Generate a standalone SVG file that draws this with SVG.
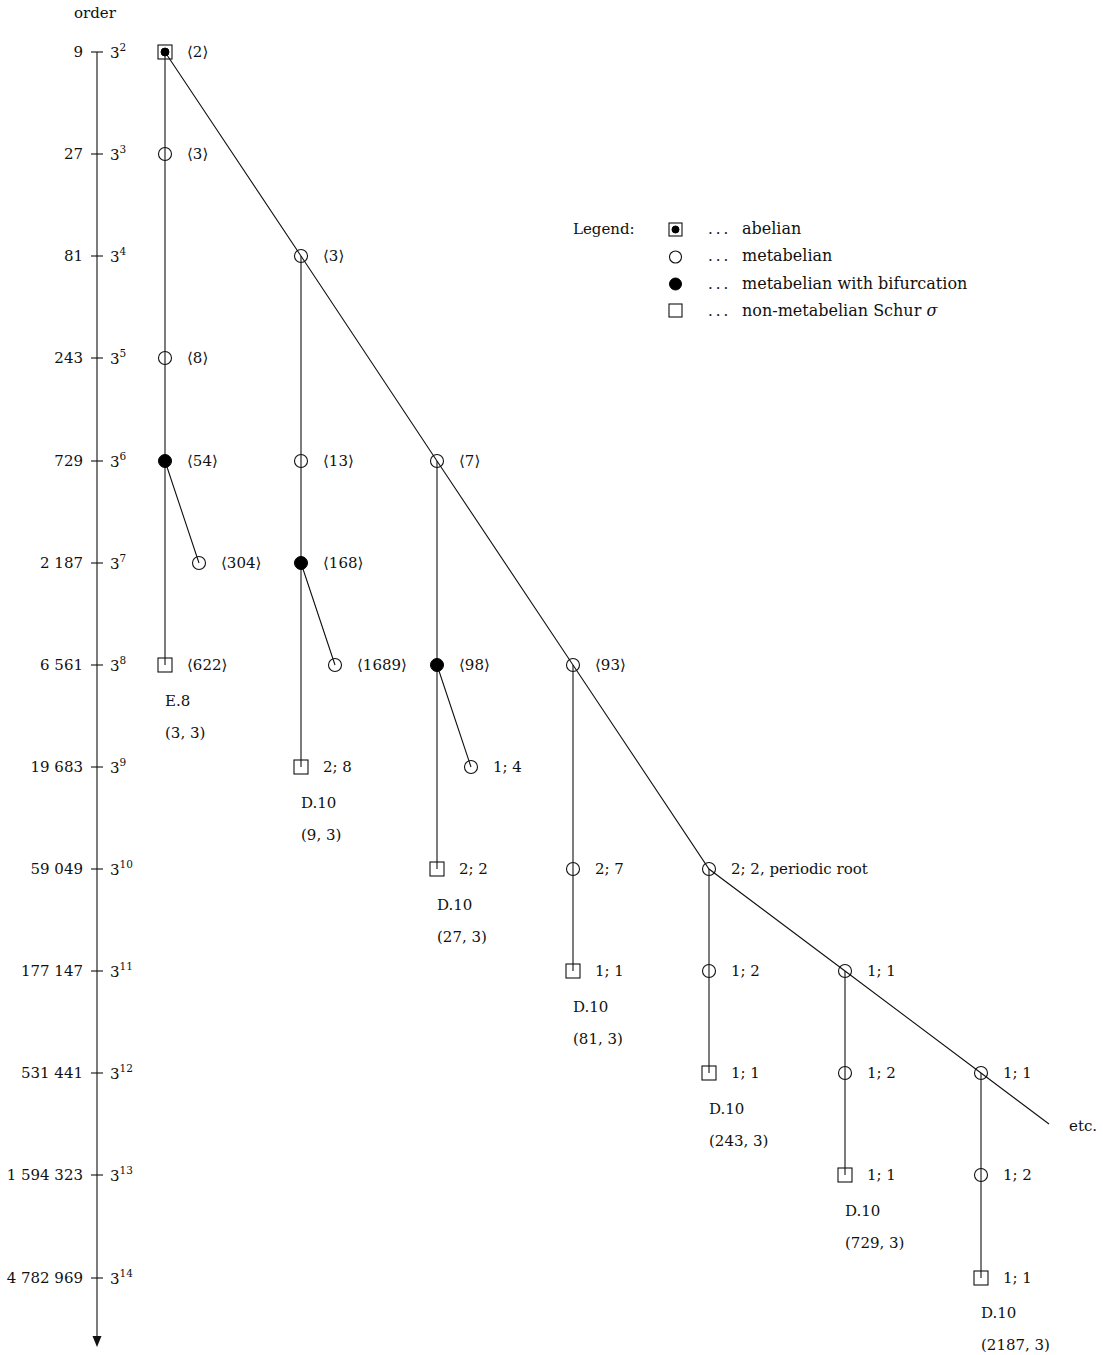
<svg xmlns="http://www.w3.org/2000/svg" width="1103" height="1355" viewBox="0 0 1103 1355">
<style>
text{font-family:"DejaVu Serif","Liberation Serif",serif;font-size:15px;fill:#111}
.r{text-anchor:end}
.ln{stroke:#111;stroke-width:1.1;fill:none}
.c{stroke:#111;stroke-width:1.1;fill:none}
.f{fill:#000;stroke:#000;stroke-width:1}
.sup{font-size:10.5px}
.lg{font-size:16px}
.dots{letter-spacing:3px}
</style>
<rect width="1103" height="1355" fill="#fff"/>
<g id="axis">
<text x="74" y="18">order</text>
<line x1="97" y1="52" x2="97" y2="1338" class="ln"/>
<path d="M92.5,1336 L97,1347 L101.5,1336 Z" fill="#111"/>
<g class="ln">
<line x1="91" y1="52" x2="103" y2="52"/><line x1="91" y1="154" x2="103" y2="154"/><line x1="91" y1="256" x2="103" y2="256"/><line x1="91" y1="358" x2="103" y2="358"/><line x1="91" y1="461" x2="103" y2="461"/><line x1="91" y1="563" x2="103" y2="563"/><line x1="91" y1="665" x2="103" y2="665"/><line x1="91" y1="767" x2="103" y2="767"/><line x1="91" y1="869" x2="103" y2="869"/><line x1="91" y1="971" x2="103" y2="971"/><line x1="91" y1="1073" x2="103" y2="1073"/><line x1="91" y1="1175" x2="103" y2="1175"/><line x1="91" y1="1278" x2="103" y2="1278"/>
</g>
<text class="r" x="83" y="57">9</text><text x="110" y="58">3<tspan class="sup" dy="-7">2</tspan></text>
<text class="r" x="83" y="159">27</text><text x="110" y="160">3<tspan class="sup" dy="-7">3</tspan></text>
<text class="r" x="83" y="261">81</text><text x="110" y="262">3<tspan class="sup" dy="-7">4</tspan></text>
<text class="r" x="83" y="363">243</text><text x="110" y="364">3<tspan class="sup" dy="-7">5</tspan></text>
<text class="r" x="83" y="466">729</text><text x="110" y="467">3<tspan class="sup" dy="-7">6</tspan></text>
<text class="r" x="83" y="568">2 187</text><text x="110" y="569">3<tspan class="sup" dy="-7">7</tspan></text>
<text class="r" x="83" y="670">6 561</text><text x="110" y="671">3<tspan class="sup" dy="-7">8</tspan></text>
<text class="r" x="83" y="772">19 683</text><text x="110" y="773">3<tspan class="sup" dy="-7">9</tspan></text>
<text class="r" x="83" y="874">59 049</text><text x="110" y="875">3<tspan class="sup" dy="-7">10</tspan></text>
<text class="r" x="83" y="976">177 147</text><text x="110" y="977">3<tspan class="sup" dy="-7">11</tspan></text>
<text class="r" x="83" y="1078">531 441</text><text x="110" y="1079">3<tspan class="sup" dy="-7">12</tspan></text>
<text class="r" x="83" y="1180">1 594 323</text><text x="110" y="1181">3<tspan class="sup" dy="-7">13</tspan></text>
<text class="r" x="83" y="1283">4 782 969</text><text x="110" y="1284">3<tspan class="sup" dy="-7">14</tspan></text>
</g>
<g id="connectors" class="ln">
<polyline points="165,52 301,256 437,461 573,665 709,869 845,971 981,1073 1049,1124"/>
<line x1="165" y1="52" x2="165" y2="665"/>
<line x1="301" y1="256" x2="301" y2="767"/>
<line x1="437" y1="461" x2="437" y2="869"/>
<line x1="573" y1="665" x2="573" y2="971"/>
<line x1="709" y1="869" x2="709" y2="1073"/>
<line x1="845" y1="971" x2="845" y2="1175"/>
<line x1="981" y1="1073" x2="981" y2="1278"/>
<line x1="165" y1="461" x2="199" y2="563"/>
<line x1="301" y1="563" x2="335" y2="665"/>
<line x1="437" y1="665" x2="471" y2="767"/>
</g>
<g id="n-3-2"><rect x="158" y="45" width="14" height="14" class="c"/><circle cx="165" cy="52" r="4" class="f"/><text x="187" y="57">⟨2⟩</text></g>
<g id="n-3-3"><circle cx="165" cy="154" r="6.5" class="c"/><text x="187" y="159">⟨3⟩</text></g>
<g id="n-3-5"><circle cx="165" cy="358" r="6.5" class="c"/><text x="187" y="363">⟨8⟩</text></g>
<g id="n-3-6-54"><circle cx="165" cy="461" r="6.5" class="f"/><text x="187" y="466">⟨54⟩</text></g>
<g id="n-3-7-304"><circle cx="199" cy="563" r="6.5" class="c"/><text x="221" y="568">⟨304⟩</text></g>
<g id="n-3-8-622"><rect x="158" y="658" width="14" height="14" class="c"/><text x="187" y="670">⟨622⟩</text><text x="165" y="706">E.8</text><text x="165" y="738">(3, 3)</text></g>
<g id="n-3-4"><circle cx="301" cy="256" r="6.5" class="c"/><text x="323" y="261">⟨3⟩</text></g>
<g id="n-3-6-13"><circle cx="301" cy="461" r="6.5" class="c"/><text x="323" y="466">⟨13⟩</text></g>
<g id="n-3-7-168"><circle cx="301" cy="563" r="6.5" class="f"/><text x="323" y="568">⟨168⟩</text></g>
<g id="n-3-8-1689"><circle cx="335" cy="665" r="6.5" class="c"/><text x="357" y="670">⟨1689⟩</text></g>
<g id="n-3-9-28"><rect x="294" y="760" width="14" height="14" class="c"/><text x="323" y="772">2; 8</text><text x="301" y="808">D.10</text><text x="301" y="840">(9, 3)</text></g>
<g id="n-3-6-7"><circle cx="437" cy="461" r="6.5" class="c"/><text x="459" y="466">⟨7⟩</text></g>
<g id="n-3-8-98"><circle cx="437" cy="665" r="6.5" class="f"/><text x="459" y="670">⟨98⟩</text></g>
<g id="n-3-9-14"><circle cx="471" cy="767" r="6.5" class="c"/><text x="493" y="772">1; 4</text></g>
<g id="n-3-10-22a"><rect x="430" y="862" width="14" height="14" class="c"/><text x="459" y="874">2; 2</text><text x="437" y="910">D.10</text><text x="437" y="942">(27, 3)</text></g>
<g id="n-3-8-93"><circle cx="573" cy="665" r="6.5" class="c"/><text x="595" y="670">⟨93⟩</text></g>
<g id="n-3-10-27"><circle cx="573" cy="869" r="6.5" class="c"/><text x="595" y="874">2; 7</text></g>
<g id="n-3-11-11a"><rect x="566" y="964" width="14" height="14" class="c"/><text x="595" y="976">1; 1</text><text x="573" y="1012">D.10</text><text x="573" y="1044">(81, 3)</text></g>
<g id="n-3-10-root"><circle cx="709" cy="869" r="6.5" class="c"/><text x="731" y="874">2; 2, periodic root</text></g>
<g id="n-3-11-12"><circle cx="709" cy="971" r="6.5" class="c"/><text x="731" y="976">1; 2</text></g>
<g id="n-3-12-11a"><rect x="702" y="1066" width="14" height="14" class="c"/><text x="731" y="1078">1; 1</text><text x="709" y="1114">D.10</text><text x="709" y="1146">(243, 3)</text></g>
<g id="n-3-11-11"><circle cx="845" cy="971" r="6.5" class="c"/><text x="867" y="976">1; 1</text></g>
<g id="n-3-12-12"><circle cx="845" cy="1073" r="6.5" class="c"/><text x="867" y="1078">1; 2</text></g>
<g id="n-3-13-11a"><rect x="838" y="1168" width="14" height="14" class="c"/><text x="867" y="1180">1; 1</text><text x="845" y="1216">D.10</text><text x="845" y="1248">(729, 3)</text></g>
<g id="n-3-12-11"><circle cx="981" cy="1073" r="6.5" class="c"/><text x="1003" y="1078">1; 1</text></g>
<g id="n-3-13-12"><circle cx="981" cy="1175" r="6.5" class="c"/><text x="1003" y="1180">1; 2</text></g>
<g id="n-3-14-11"><rect x="974" y="1271" width="14" height="14" class="c"/><text x="1003" y="1283">1; 1</text><text x="981" y="1318">D.10</text><text x="981" y="1350">(2187, 3)</text></g>
<text x="1069" y="1131">etc.</text>
<g id="legend">
<text x="573" y="234">Legend:</text>
<rect x="669" y="223" width="13" height="13" class="c"/><circle cx="675.5" cy="229.5" r="3.5" class="f"/>
<circle cx="675.5" cy="257" r="6" class="c"/>
<circle cx="675.5" cy="284" r="6" class="f"/>
<rect x="669" y="304" width="13" height="13" class="c"/>
<text x="708" y="234" class="dots">...</text><text x="742" y="234" class="lg">abelian</text>
<text x="708" y="261" class="dots">...</text><text x="742" y="261" class="lg">metabelian</text>
<text x="708" y="289" class="dots">...</text><text x="742" y="289" class="lg">metabelian with bifurcation</text>
<text x="708" y="316" class="dots">...</text><text x="742" y="316" class="lg">non-metabelian Schur <tspan font-style="italic">σ</tspan></text>
</g>
</svg>
